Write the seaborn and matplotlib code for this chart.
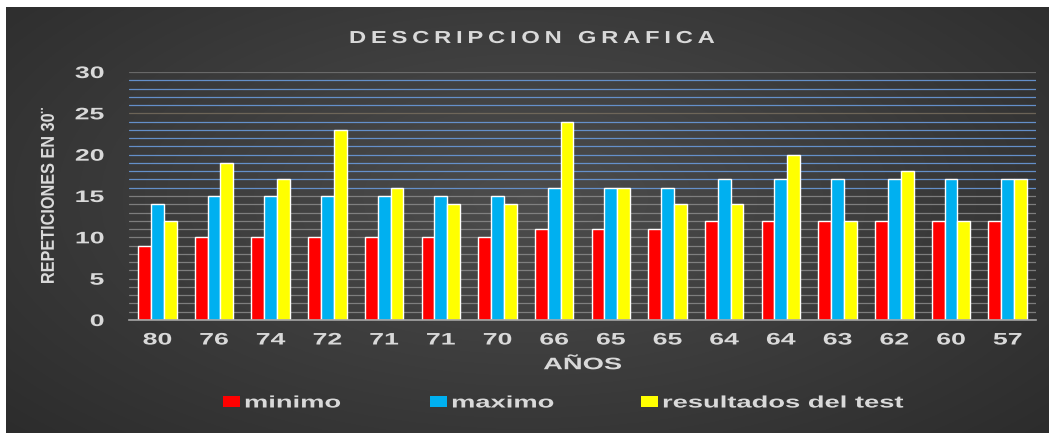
import numpy as np
import pandas as pd
import matplotlib
matplotlib.use("Agg")
import matplotlib.pyplot as plt
from matplotlib.patches import Patch
from matplotlib.patheffects import AbstractPathEffect
from matplotlib.transforms import Affine2D
import seaborn as sns

# Data
edades = ["80", "76", "74", "72", "71", "71", "70", "66", "65", "65",
          "64", "64", "63", "62", "60", "57"]
minimo = [9, 10, 10, 10, 10, 10, 10, 11, 11, 11, 12, 12, 12, 12, 12, 12]
maximo = [14, 15, 15, 15, 15, 15, 15, 16, 16, 16, 17, 17, 17, 17, 17, 17]
resultados = [12, 19, 17, 23, 16, 14, 14, 24, 16, 14, 14, 20, 12, 18, 12, 17]
series = ["minimo", "maximo", "resultados del test"]
colores = ["#ff0000", "#00b0f0", "#ffff00"]

# One slot per subject (ages repeat)
pos = [f"{i}" for i in range(len(edades))]
df = pd.DataFrame({
    "pos": pos * 3,
    "valor": minimo + maximo + resultados,
    "serie": [series[0]] * len(pos) + [series[1]] * len(pos) + [series[2]] * len(pos),
})


class Stretch(AbstractPathEffect):
    """Scale glyphs about a chosen anchor of the string (text-local axes)."""

    def __init__(self, sx, anchor="center", sy=1.0):
        super().__init__()
        self.sx = sx
        self.sy = sy
        self.anchor = anchor

    def draw_path(self, renderer, gc, tpath, affine, rgbFace=None):
        ext = tpath.get_extents()
        x0 = {"left": ext.x0, "center": 0.5 * (ext.x0 + ext.x1),
              "right": ext.x1}[self.anchor]
        y0 = 0.5 * (ext.y0 + ext.y1)
        t = (Affine2D().translate(-x0, -y0).scale(self.sx, self.sy)
             .translate(x0, y0) + affine)
        renderer.draw_path(gc, tpath, t, rgbFace)


sns.set_theme(style="dark")
plt.rcParams["font.family"] = ["Liberation Sans", "DejaVu Sans"]

W, H = 1049, 433
fig = plt.figure(figsize=(W / 100, H / 100), dpi=100, facecolor="white")

# Dark radial backdrop
bg = fig.add_axes([6 / W, 0, 1 - 6 / W, 1 - 7 / H], zorder=-10)
yy, xx = np.mgrid[0:1:300j, 0:1:700j]
r = np.sqrt(((xx - 0.5) / 0.75) ** 2 + ((yy - 0.45) / 0.9) ** 2)
shade = np.clip(0.30 - 0.14 * r, 0.17, 0.30)
bg.imshow(np.dstack([shade, shade, shade]), aspect="auto", extent=[0, 1, 0, 1])
bg.set_axis_off()

ax = fig.add_axes([129 / W, (H - 320) / H, (1036 - 129) / W, (320 - 72) / H])
ax.set_facecolor("none")

# Horizontal gridlines at every unit
for v in range(1, 31):
    if v == 30:
        c, a = "#6e6e6e", 0.9
    elif v == 25:
        c, a = "#7a7060", 0.8
    elif v >= 16:
        c, a = "#6795d2", 0.95
    else:
        c, a = "#8a8a8a", 0.85
    ax.axhline(v, color=c, alpha=a, lw=0.9, zorder=0)

sns.barplot(data=df, x="pos", y="valor", hue="serie", palette=colores,
            width=0.68, gap=0, saturation=1, ax=ax, zorder=2, legend=False)

ax.set_ylim(0, 30)
ax.set_xlim(-0.5, len(edades) - 0.5)
ax.set_yticks(range(0, 31, 5))
ax.set_xticks(range(len(edades)))
ax.set_xticklabels(edades)
txt_col = "#d9d9d9"
ax.tick_params(axis="both", colors=txt_col, labelsize=12, length=0)
ax.tick_params(axis="y", pad=18)
ax.tick_params(axis="x", pad=9)
for lab in ax.get_xticklabels():
    lab.set_fontweight("bold")
    lab.set_color(txt_col)
    lab.set_path_effects([Stretch(1.6, "center")])
for lab in ax.get_yticklabels():
    lab.set_fontweight("bold")
    lab.set_color(txt_col)
    lab.set_path_effects([Stretch(1.6, "right")])

for s in ["top", "right", "left"]:
    ax.spines[s].set_visible(False)
ax.spines["bottom"].set_color("#a6a6a6")
ax.spines["bottom"].set_linewidth(1.2)
ax.grid(False)

xl = ax.set_xlabel("AÑOS", color=txt_col, fontsize=12, fontweight="bold", labelpad=7)
xl.set_path_effects([Stretch(1.64, "center")])
yl = ax.set_ylabel("REPETICIONES EN 30¨", color=txt_col, fontsize=11.7, fontweight="bold")
yl.set_path_effects([Stretch(1.0, "center", sy=1.15)])
ax.yaxis.set_label_coords((56 - 129) / (1036 - 129), 0.5)

titulo = "\u2009 \u2009".join("\u2009".join(w) for w in "DESCRIPCION GRAFICA".split())
tt = fig.text(532 / W, 1 - 38.5 / H, titulo, ha="center", va="center",
              color=txt_col, fontsize=12.5, fontweight="bold")
tt.set_path_effects([Stretch(1.37, "center")])

handles = [Patch(facecolor=c, edgecolor="none") for c in colores]
leg = fig.legend(handles, series, loc="center left", ncol=3,
                 bbox_to_anchor=(223 / W, 1 - 403 / H), frameon=False,
                 borderpad=0, borderaxespad=0,
                 handlelength=1.0, handleheight=0.66, handletextpad=0.3,
                 columnspacing=7.6, prop={"size": 12, "weight": "bold"})
for t in leg.get_texts():
    t.set_color(txt_col)
    t.set_path_effects([Stretch(1.64, "left")])

fig.savefig("out.png", dpi=100, facecolor="white")
